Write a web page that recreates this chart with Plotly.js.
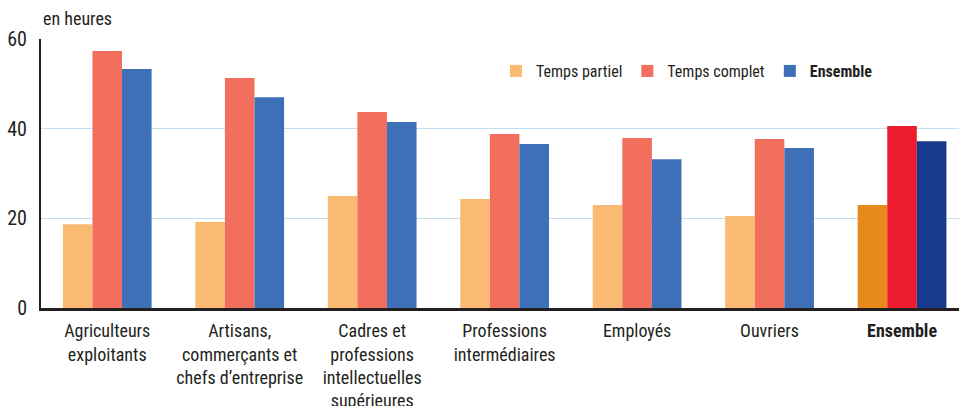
<!DOCTYPE html>
<html>
<head>
<meta charset="utf-8">
<script src="https://cdn.plot.ly/plotly-3.0.1.min.js"></script>
<style>html,body{margin:0;padding:0;background:#fff;}#chart{width:959px;height:406px;}</style>
</head>
<body>
<div id="chart"></div>
<script>
var categories = ["Agriculteurs exploitants", "Artisans, commerçants et chefs d’entreprise", "Cadres et professions intellectuelles supérieures", "Professions intermédiaires", "Employés", "Ouvriers", "Ensemble"];
var tickLabels = ["Agriculteurs<br>exploitants", "Artisans,<br>commerçants et<br>chefs d’entreprise", "Cadres et<br>professions<br>intellectuelles<br>supérieures", "Professions<br>intermédiaires", "Employés", "Ouvriers", "<b>Ensemble</b>"];
var seriesNames = ["Temps partiel", "Temps complet", "<b>Ensemble</b>"];
var tempsPartiel = [18.7, 19.2, 25.0, 24.3, 23.0, 20.5, 23.0];
var tempsComplet = [57.3, 51.3, 43.7, 38.8, 37.9, 37.7, 40.6];
var ensemble = [53.3, 47.0, 41.5, 36.6, 33.2, 35.7, 37.2];
var baseColors = ["#FBBA74", "#F26F5E", "#3D70B6"];
var totalColors = ["#E8891C", "#ED1C2E", "#173A8C"];

var font = "'Liberation Sans Narrow', 'Roboto Condensed', 'Arial Narrow', Roboto, sans-serif";
var series = [tempsPartiel, tempsComplet, ensemble];
var traces = series.map(function (vals, i) {
  return {
    type: "bar",
    name: seriesNames[i],
    x: categories,
    y: vals,
    marker: {
      color: categories.map(function (c, j) { return j === categories.length - 1 ? totalColors[i] : baseColors[i]; })
    },
    hoverinfo: "x+y"
  };
});

var layout = {
  width: 959, height: 406,
  margin: {l: 41, r: 0, t: 39, b: 98},
  paper_bgcolor: "#fff", plot_bgcolor: "#fff",
  font: {family: font, size: 18, color: "#231F20"},
  barmode: "group",
  bargap: 0.33,
  bargroupgap: 0,
  showlegend: true,
  legend: {
    orientation: "h", x: 0.4956, y: 0.881, xanchor: "left", yanchor: "middle",
    font: {family: font, size: 16, color: "#231F20"},
    bgcolor: "rgba(0,0,0,0)"
  },
  xaxis: {
    type: "category",
    tickmode: "array", tickvals: categories, ticktext: tickLabels,
    range: [-0.5, 6.43],
    showgrid: false, zeroline: false,
    showline: true, linecolor: "#231F20", linewidth: 2.5,
    ticks: "", ticklabelstandoff: 5,
    tickfont: {family: font, size: 18, color: "#231F20"}
  },
  yaxis: {
    range: [0, 60], tickvals: [0, 20, 40, 60],
    showgrid: true, gridcolor: "#BFE0F2", gridwidth: 1.5,
    zeroline: false,
    showline: true, linecolor: "#231F20", linewidth: 2,
    ticks: "", ticklabelstandoff: 8,
    tickfont: {family: font, size: 20, color: "#231F20"}
  },
  annotations: [{
    text: "en heures", xref: "paper", yref: "paper", x: 0, y: 1.0, yshift: 21,
    xanchor: "left", yanchor: "middle", showarrow: false,
    font: {family: font, size: 18, color: "#231F20"}
  }]
};

Plotly.newPlot("chart", traces, layout, {displayModeBar: false, staticPlot: true});
</script>
</body>
</html>
